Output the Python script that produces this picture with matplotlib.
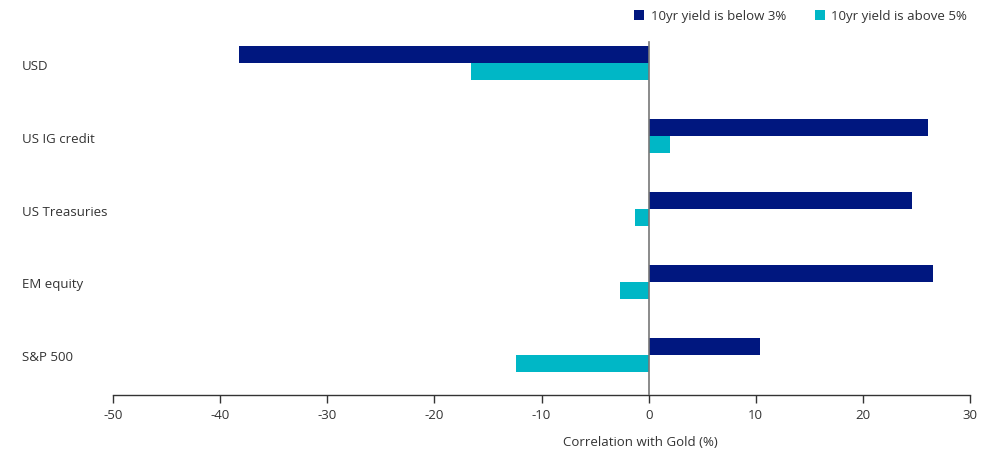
import matplotlib
matplotlib.use("Agg")
import matplotlib.pyplot as plt
from matplotlib.patches import Patch
import matplotlib.transforms as mtransforms
import numpy as np

categories = ["USD", "US IG credit", "US Treasuries", "EM equity", "S&P 500"]
below_3 = [-38.2, 26.1, 24.6, 26.5, 10.4]
above_5 = [-16.6, 2.0, -1.3, -2.7, -12.4]
series_names = ["10yr yield is below 3%", "10yr yield is above 5%"]
xticks = [-50, -40, -30, -20, -10, 0, 10, 20, 30]

navy = "#00177F"
cyan = "#00B7C6"
txt = "#333333"

plt.rcParams['font.family'] = ['Open Sans', 'DejaVu Sans']
fs = 9.5

fig = plt.figure(figsize=(9.89, 4.51), dpi=100)
left_px, right_px = 113, 970
ax = fig.add_axes([left_px/989, 56/451, (right_px-left_px)/989, (428-56)/451])

y = np.arange(len(categories))
h = 0.233
ax.barh(y - h/2, below_3, height=h, color=navy, label=series_names[0])
ax.barh(y + h/2, above_5, height=h, color=cyan, label=series_names[1])

ax.set_ylim(len(categories) - 0.45, -0.55)
ax.set_xlim(-50, 30)
ax.axvline(0, ymin=0, ymax=0.95, color="#777777", lw=1.2, zorder=3)

for s in ["top", "right", "left"]:
    ax.spines[s].set_visible(False)
ax.spines["bottom"].set_color("#333333")
ax.spines["bottom"].set_linewidth(1.0)

ax.set_xticks(xticks)
ax.set_xticklabels([str(t) for t in xticks])
ax.tick_params(axis="x", direction="out", length=6, width=1, color="#333333",
               labelsize=fs, labelcolor=txt, pad=4)
ax.set_yticks([])

# category labels, left-aligned at the figure's left margin
trans = mtransforms.blended_transform_factory(fig.transFigure, ax.transData)
trans = trans + mtransforms.ScaledTranslation(0, -3/100, fig.dpi_scale_trans)
for yi, cat in zip(y, categories):
    ax.text(22/989, yi, cat, transform=trans, ha="left", va="center",
            fontsize=fs, color=txt, clip_on=False)

ax.set_xlabel("Correlation with Gold (%)", fontsize=fs, color=txt)
ax.xaxis.set_label_coords((640-left_px)/(right_px-left_px), -0.11)

handles = [Patch(facecolor=navy), Patch(facecolor=cyan)]
fig.legend(handles, series_names, loc="upper right", bbox_to_anchor=(0.99, 1.005),
           ncol=2, frameon=False, fontsize=fs, handlelength=0.75, handleheight=0.75,
           handletextpad=0.5, columnspacing=2.2, labelcolor=txt)

fig.savefig("out.png", dpi=100)
